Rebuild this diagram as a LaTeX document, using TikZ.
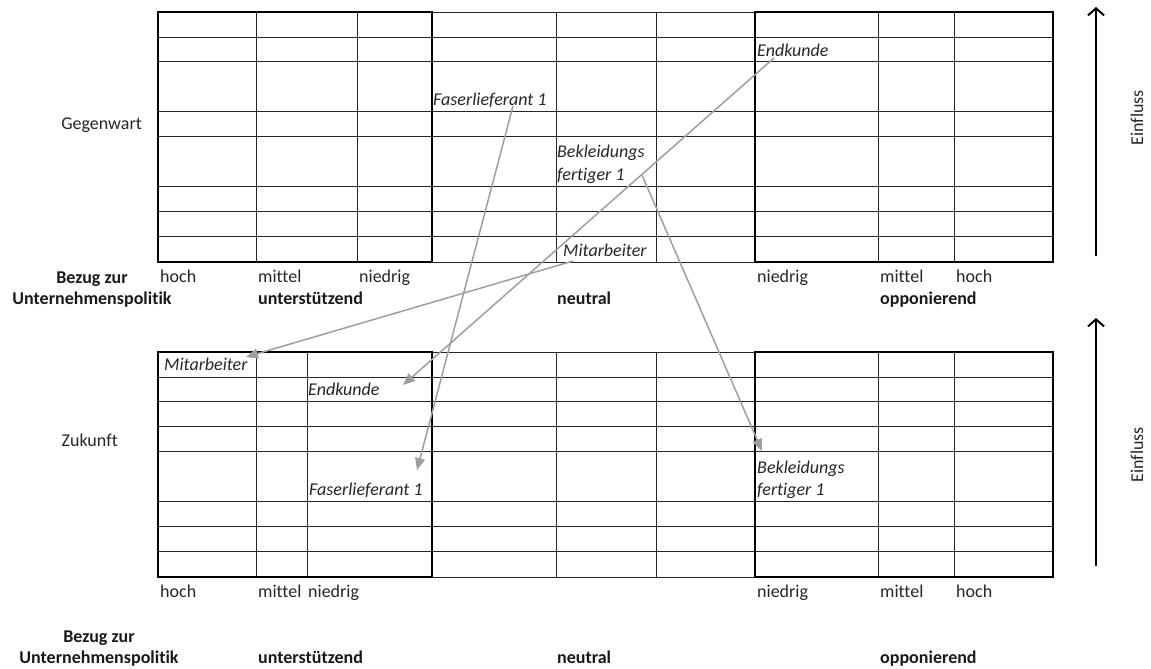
\documentclass[tikz,border=0pt]{standalone}
\usepackage{fontspec}
\setmainfont{Carlito}[Ligatures=NoCommon]
\usetikzlibrary{arrows.meta}
\tikzset{
  thin grid/.style={line width=0.9pt, draw=black!85},
  thick grid/.style={line width=1.8pt, draw=black},
  lbl/.style={inner sep=0pt, anchor=base west, font=\fontsize{18}{22}\selectfont, text=black!85},
  blbl/.style={inner sep=0pt, anchor=base, font=\fontsize{18}{22}\selectfont\bfseries, text=black!90},
  blw/.style={inner sep=0pt, anchor=base west, font=\fontsize{18}{22}\selectfont\bfseries, text=black!90},
  ilbl/.style={inner sep=0pt, anchor=base west, font=\fontsize{18}{22}\selectfont\itshape, text=black!85},
  move/.style={draw=black!38, line width=1.5pt, -{Triangle[length=12pt,width=10pt]}},
  axis/.style={draw=black, line width=2pt, -{Straight Barb[length=7pt,width=16pt,line width=2pt]}},
  side/.style={inner sep=0pt, font=\fontsize{18}{22}\selectfont, text=black!85},
}
\begin{document}
\begin{tikzpicture}[x=1pt,y=-1pt]
\useasboundingbox (0,0) rectangle (1151,669);
% ---------- top grid ----------
\foreach \y in {12,37,61,111,136,186,211,236,262}
  \draw[thin grid] (158,\y) -- (1053,\y);
\foreach \x in {256,357,556,656,878,954}
  \draw[thin grid] (\x,12) -- (\x,262);
\draw[thick grid] (158,12) rectangle (432,262);
\draw[thick grid] (755,12) rectangle (1053,262);
% ---------- bottom grid ----------
\foreach \y in {352,377,401,426,451,501,526,551,577}
  \draw[thin grid] (158,\y) -- (1053,\y);
\foreach \x in {256,307,556,656,878,954}
  \draw[thin grid] (\x,352) -- (\x,577);
\draw[thick grid] (158,352) rectangle (432,577);
\draw[thick grid] (755,352) rectangle (1053,577);
% ---------- side labels ----------
\node[side, anchor=east] (geg) at (142,125) {Gegenwart};
\node[side, anchor=east] (zuk) at (118,440) {Zukunft};
\node[side, rotate=90] (ein1) at (1137,118) {Einfluss};
\node[side, rotate=90] (ein2) at (1137,455) {Einfluss};
\coordinate (a1s) at (1096,256);
\coordinate (a1e) at (1096,7);
\coordinate (a2s) at (1096,566);
\coordinate (a2e) at (1096,318);
\draw[axis] (a1s) -- (a1e);
\draw[axis] (a2s) -- (a2e);
% ---------- top axis labels ----------
\node[lbl] (th1) at (160,282) {hoch};
\node[lbl] (tm1) at (258,282) {mittel};
\node[lbl] (tn1) at (359,282) {niedrig};
\node[lbl] (tn2) at (757,282) {niedrig};
\node[lbl] (tm2) at (880,282) {mittel};
\node[lbl] (th2) at (956,282) {hoch};
\node[blbl] (tbz) at (92,283) {Bezug zur};
\node[blbl] (tup) at (92,304) {Unternehmenspolitik};
\node[blw] (tun) at (258,304) {unterstützend};
\node[blw] (tne) at (557,304) {neutral};
\node[blw] (top) at (880,304) {opponierend};
% ---------- bottom axis labels ----------
\node[lbl] (bh1) at (160,597) {hoch};
\node[lbl] (bm1) at (258,597) {mittel};
\node[lbl] (bn1) at (308,597) {niedrig};
\node[lbl] (bn2) at (757,597) {niedrig};
\node[lbl] (bm2) at (880,597) {mittel};
\node[lbl] (bh2) at (956,597) {hoch};
\node[blbl] (bbz) at (99,642) {Bezug zur};
\node[blbl] (bup) at (99,663) {Unternehmenspolitik};
\node[blw] (bun) at (258,663) {unterstützend};
\node[blw] (bne) at (557,663) {neutral};
\node[blw] (bop) at (880,663) {opponierend};
% ---------- stakeholder labels, present ----------
\node[ilbl] (faT) at (433,105) {Faserlieferant 1};
\node[ilbl] (beT) at (557,157) {Bekleidungs};
\node[ilbl] (feT) at (557,180) {fertiger 1};
\node[ilbl] (miT) at (563,256) {Mitarbeiter};
\node[ilbl] (enT) at (757,57) {Endkunde};
% ---------- stakeholder labels, future ----------
\node[ilbl] (miB) at (164,370) {Mitarbeiter};
\node[ilbl] (enB) at (308,395) {Endkunde};
\node[ilbl] (faB) at (309,495) {Faserlieferant 1};
\node[ilbl] (beB) at (757,473) {Bekleidungs};
\node[ilbl] (feB) at (757,495) {fertiger 1};
% ---------- movement arrows ----------
\coordinate (faS) at (513,106);
\coordinate (faE) at (417,470);
\coordinate (enS) at (774,58);
\coordinate (enE) at (403,385);
\coordinate (miS) at (573,261);
\coordinate (miE) at (246,357);
\coordinate (beS) at (642,175);
\coordinate (beE) at (762,451);
\draw[move] (faS) -- (faE);
\draw[move] (enS) -- (enE);
\draw[move] (miS) -- (miE);
\draw[move] (beS) -- (beE);
\end{tikzpicture}
\end{document}
